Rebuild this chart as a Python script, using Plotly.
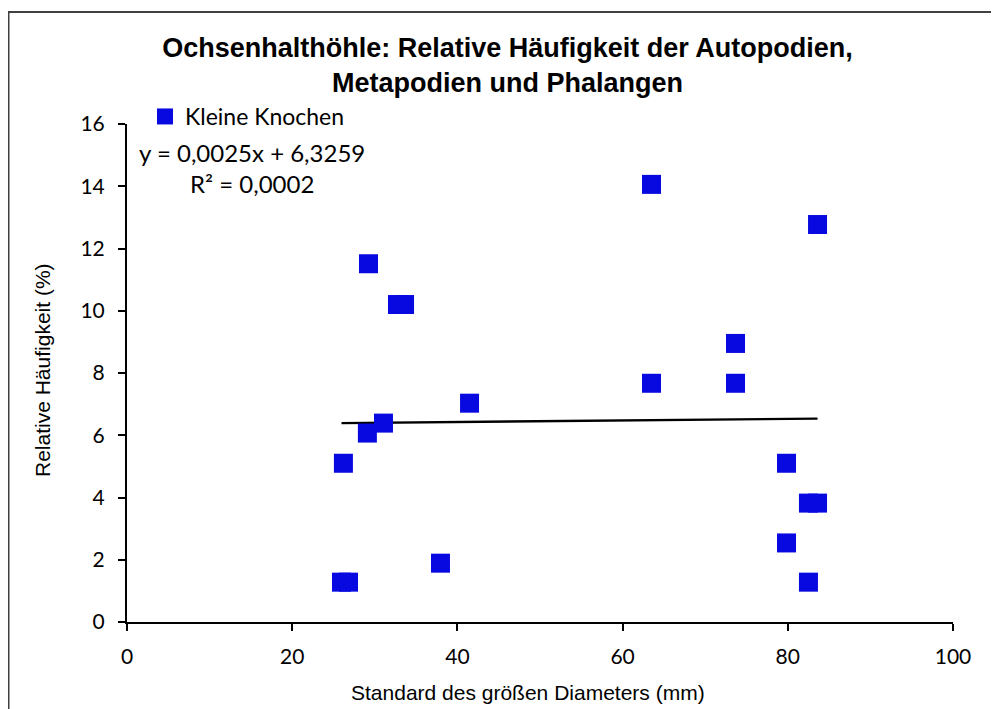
import plotly.graph_objects as go

# Data
diameter_sd = [29.24, 32.75, 33.6, 41.47, 31.05, 29.1, 26.2, 37.95, 25.97, 26.82,
               63.5, 83.6, 73.67, 63.5, 73.67, 79.84, 82.5, 83.6, 79.84, 82.5]
rel_freq = [11.51, 10.2, 10.2, 7.03, 6.39, 6.07, 5.10, 1.89, 1.28, 1.28,
            14.06, 12.77, 8.95, 7.67, 7.67, 5.10, 3.82, 3.82, 2.54, 1.28]
series_name = "Kleine Knochen"
trend_slope = 0.0025
trend_intercept = 6.3259
trend_label = "y = 0,0025x + 6,3259"
r2_label = "R² = 0,0002"
x_title = "Standard des größen Diameters (mm)"
y_title = "Relative Häufigkeit (%)"
x_ticks = [0, 20, 40, 60, 80, 100]
y_ticks = [0, 2, 4, 6, 8, 10, 12, 14, 16]

title_text = "<b>Ochsenhalthöhle: Relative Häufigkeit der Autopodien,<br>Metapodien und Phalangen</b>"

x_min, x_max = min(diameter_sd), max(diameter_sd)
trend_x = [x_min, x_max]
trend_y = [trend_slope * v + trend_intercept for v in trend_x]

BODY = "Lato, Calibri, Carlito, sans-serif"
ARIAL = "Liberation Sans, Arial, sans-serif"

# plot area in figure pixels: x 119..945, y 116..614
L, R, T, B = 119, 945, 116, 614
W, H = R - L, B - T


def px(X):
    return (X - L) / W


def py(Y):
    return (B - Y) / H


fig = go.Figure()
fig.add_trace(go.Scatter(
    x=trend_x, y=trend_y, mode="lines",
    line=dict(color="black", width=2.4),
    showlegend=False, hoverinfo="skip"))
fig.add_trace(go.Scatter(
    x=diameter_sd, y=rel_freq, mode="markers", name=series_name,
    marker=dict(symbol="square", size=19, color="#0808E0", line=dict(width=0))))

fig.update_layout(
    width=999, height=709,
    paper_bgcolor="white", plot_bgcolor="white",
    margin=dict(l=L, r=999 - R, t=T, b=709 - B),
    title=dict(text=title_text, x=0.5, xanchor="center",
               y=1 - 49 / 709, yanchor="middle", xref="container", yref="container",
               font=dict(family=ARIAL, size=27, color="black")),
    showlegend=True,
    legend=dict(x=px(137), y=py(87), xanchor="left", yanchor="top",
                bgcolor="rgba(0,0,0,0)", borderwidth=0,
                font=dict(family=BODY, size=23, color="black"),
                itemwidth=30, tracegroupgap=0),
    xaxis=dict(range=[0, 100], tickvals=x_ticks, showgrid=False, zeroline=False,
               showline=True, linecolor="black", linewidth=2,
               ticks="outside", ticklen=7, tickwidth=2, tickcolor="black",
               ticklabelstandoff=8,
               tickfont=dict(family=BODY, size=21, color="black")),
    yaxis=dict(range=[0, 16], tickvals=y_ticks, showgrid=False, zeroline=False,
               showline=True, linecolor="black", linewidth=2,
               ticks="outside", ticklen=7, tickwidth=2, tickcolor="black",
               ticklabelstandoff=9,
               tickfont=dict(family=BODY, size=21, color="black")),
    annotations=[
        dict(text=trend_label, x=px(244), y=py(145), xref="paper", yref="paper",
             showarrow=False, xanchor="center", yanchor="middle",
             font=dict(family=BODY, size=24, color="black")),
        dict(text=r2_label, x=px(244), y=py(175), xref="paper", yref="paper",
             showarrow=False, xanchor="center", yanchor="middle",
             font=dict(family=BODY, size=24, color="black")),
        dict(text=x_title, x=px(519.5), y=py(684), xref="paper", yref="paper",
             showarrow=False, xanchor="center", yanchor="middle",
             font=dict(family=ARIAL, size=21, color="black")),
        dict(text=y_title, x=px(34), y=py(362), xref="paper", yref="paper",
             showarrow=False, xanchor="center", yanchor="middle", textangle=-90,
             font=dict(family=ARIAL, size=21, color="black")),
    ],
    shapes=[dict(type="rect", xref="paper", yref="paper",
                 x0=px(0.5), x1=px(1100), y0=py(800), y1=py(4),
                 line=dict(color="#404040", width=2), fillcolor="rgba(0,0,0,0)")],
)

fig.write_html("out.html")
